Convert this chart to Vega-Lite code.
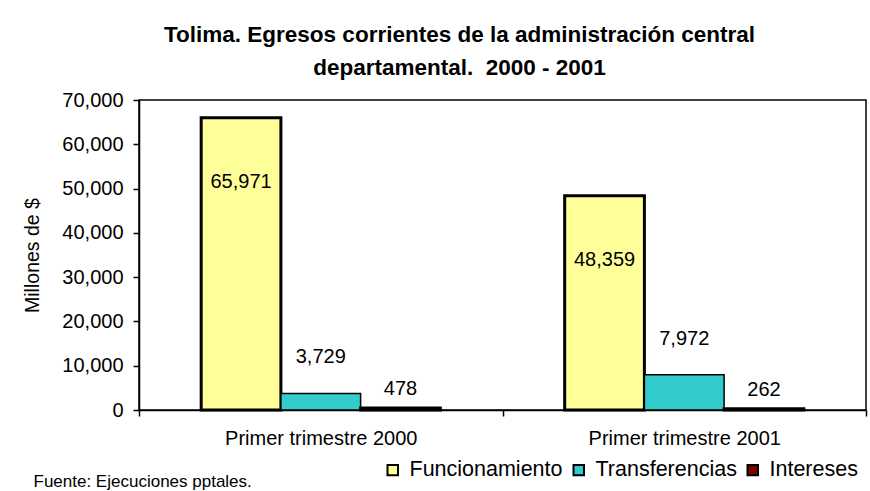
{
  "$schema": "https://vega.github.io/schema/vega-lite/v6.json",
  "autosize": {"type": "none"},
  "width": 727,
  "height": 310,
  "padding": {"left": 139, "top": 100, "right": 4, "bottom": 81},
  "background": "white",
  "config": {
    "font": "Liberation Sans",
    "view": {"stroke": "black", "strokeWidth": 1.5},
    "axis": {"grid": false, "domainColor": "black", "tickColor": "black", "labelColor": "black", "titleColor": "black", "labelFont": "Liberation Sans", "titleFont": "Liberation Sans"}
  },
  "title": {
    "text": ["Tolima. Egresos corrientes de la administración central", "departamental.\u00a0 2000 - 2001"],
    "font": "Liberation Sans",
    "fontSize": 22.5,
    "fontWeight": "bold",
    "color": "black",
    "anchor": "middle",
    "dx": -43,
    "lineHeight": 33,
    "offset": 11
  },
  "data": {
    "values": [
      {"periodo": "Primer trimestre 2000", "serie": "Funcionamiento", "valor": 65971},
      {"periodo": "Primer trimestre 2000", "serie": "Transferencias", "valor": 3729},
      {"periodo": "Primer trimestre 2000", "serie": "Intereses", "valor": 478},
      {"periodo": "Primer trimestre 2001", "serie": "Funcionamiento", "valor": 48359},
      {"periodo": "Primer trimestre 2001", "serie": "Transferencias", "valor": 7972},
      {"periodo": "Primer trimestre 2001", "serie": "Intereses", "valor": 262}
    ]
  },
  "encoding": {
    "x": {
      "field": "periodo", "type": "nominal",
      "scale": {"paddingInner": 0, "paddingOuter": 0},
      "axis": {
        "labelAngle": 0, "labelFontSize": 20, "labelPadding": 12, "labelLimit": 0, "tickBand": "extent", "tickSize": 6,
        "domainWidth": 1.5, "tickWidth": 1.5,
        "title": "Fuente: Ejecuciones pptales.", "titleFontSize": 17, "titleFontWeight": "normal",
        "titleAnchor": "start", "titleAlign": "left", "titleX": -106, "titleY": 71, "titleBaseline": "middle"
      }
    },
    "xOffset": {"field": "serie", "type": "nominal", "sort": ["Funcionamiento", "Transferencias", "Intereses"], "scale": {"paddingInner": 0, "paddingOuter": 0.78}},
    "y": {
      "field": "valor", "type": "quantitative",
      "scale": {"domain": [0, 70000], "nice": false},
      "axis": {
        "values": [0, 10000, 20000, 30000, 40000, 50000, 60000, 70000],
        "format": ",d", "labelFontSize": 20, "labelPadding": 10, "tickSize": 6,
        "domainWidth": 1.5, "tickWidth": 1.5,
        "title": "Millones de $", "titleFontSize": 19.5, "titleFontWeight": "normal", "titlePadding": 19
      }
    }
  },
  "layer": [
    {
      "mark": {"type": "bar", "stroke": "black"},
      "encoding": {
        "color": {
          "field": "serie", "type": "nominal",
          "sort": ["Funcionamiento", "Transferencias", "Intereses"],
          "scale": {"domain": ["Funcionamiento", "Transferencias", "Intereses"], "range": ["#FFFF99", "#33CCCC", "#800000"]},
          "legend": {
            "title": null, "orient": "none", "direction": "horizontal", "legendX": 243, "legendY": 359,
            "symbolType": "square", "symbolSize": 110, "symbolStrokeColor": "black", "symbolStrokeWidth": 2,
            "labelFontSize": 21.5, "labelLimit": 0, "labelColor": "black", "labelFont": "Liberation Sans", "columnPadding": 5, "labelOffset": 6
          }
        },
        "strokeWidth": {"condition": {"test": "datum.serie === 'Transferencias'", "value": 1.5}, "value": 3}
      }
    },
    {
      "transform": [{"filter": "datum.serie === 'Funcionamiento'"}],
      "mark": {"type": "text", "fontSize": 20, "baseline": "middle", "dy": 64, "color": "black"},
      "encoding": {"text": {"field": "valor", "type": "quantitative", "format": ",d"}}
    },
    {
      "transform": [{"filter": "datum.serie === 'Transferencias'"}],
      "mark": {"type": "text", "fontSize": 20, "baseline": "middle", "dy": -36, "color": "black"},
      "encoding": {"text": {"field": "valor", "type": "quantitative", "format": ",d"}}
    },
    {
      "transform": [{"filter": "datum.serie === 'Intereses'"}],
      "mark": {"type": "text", "fontSize": 20, "baseline": "middle", "dy": -19, "color": "black"},
      "encoding": {"text": {"field": "valor", "type": "quantitative", "format": ",d"}}
    }
  ]
}
